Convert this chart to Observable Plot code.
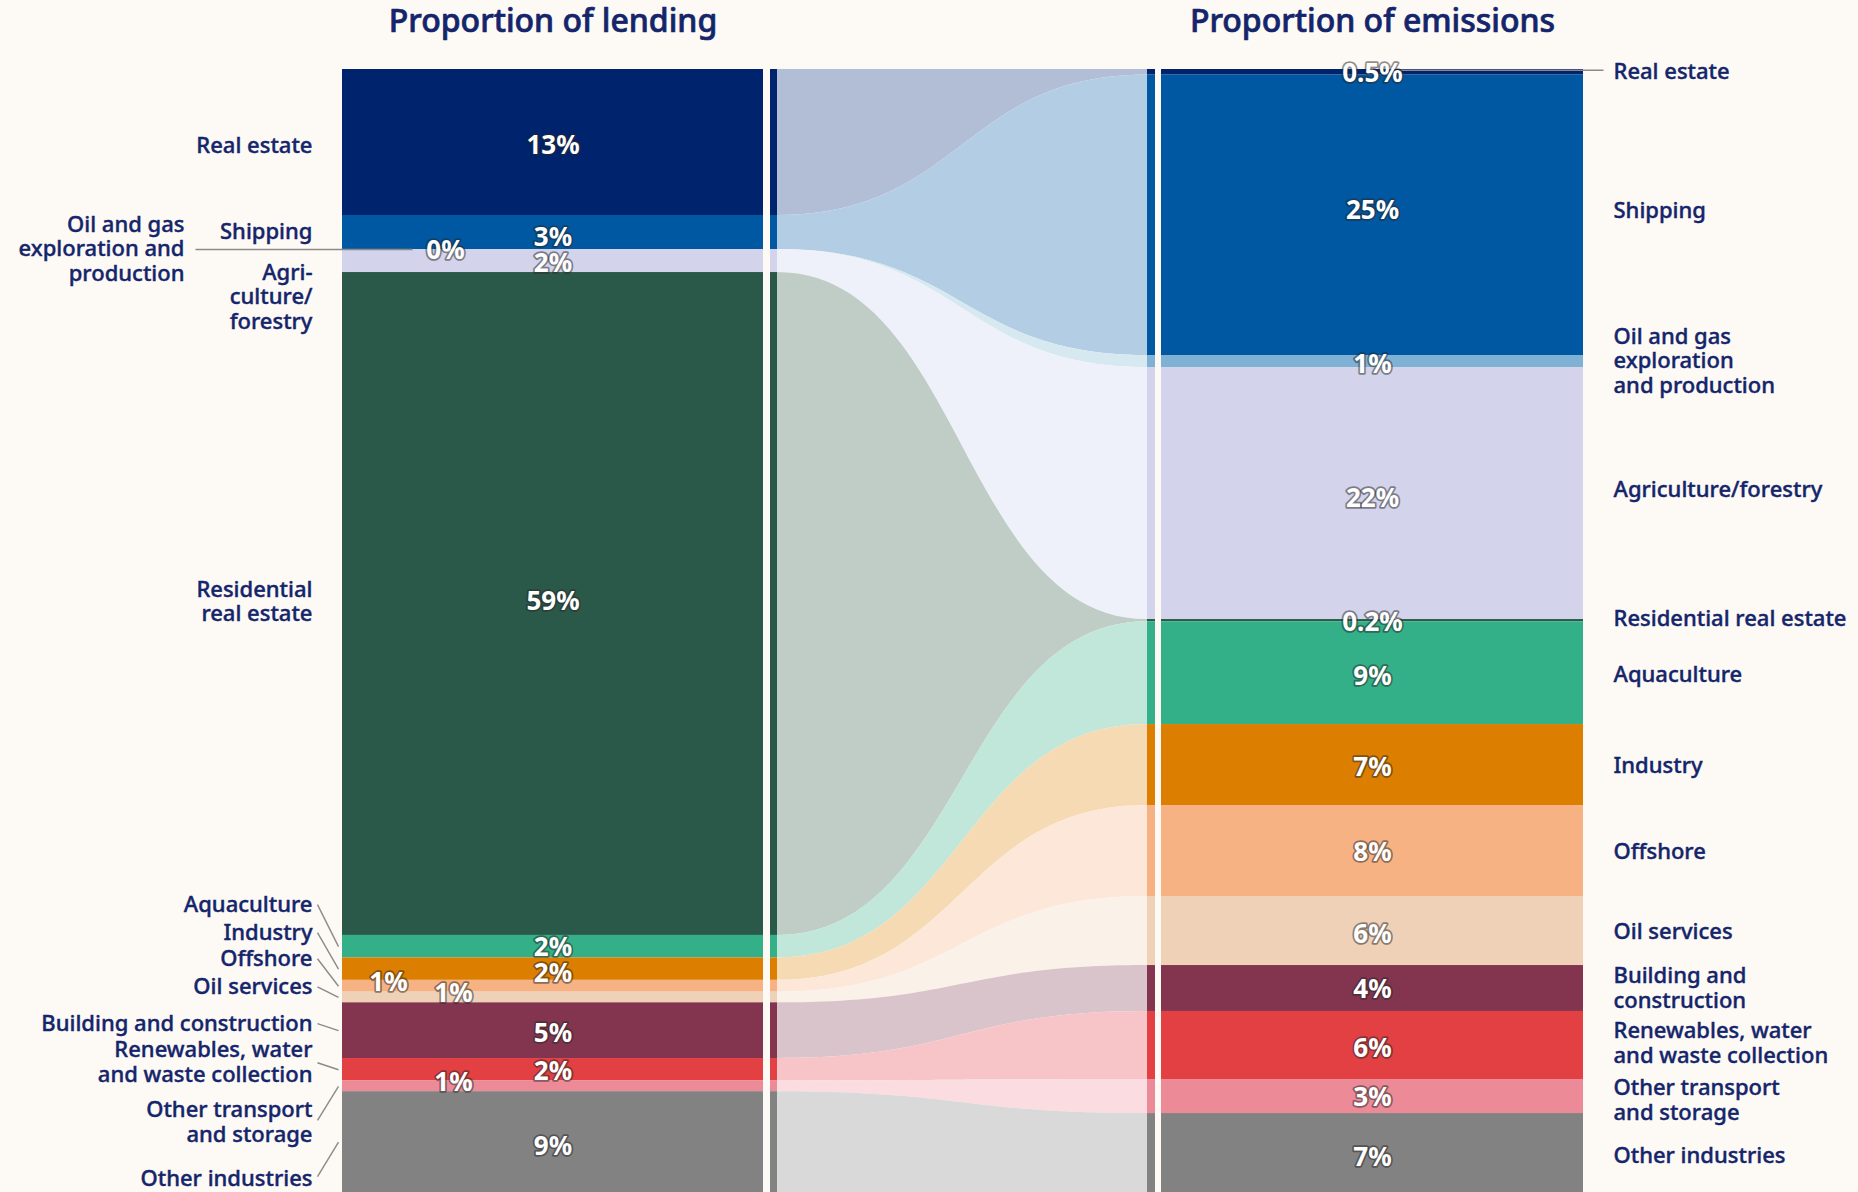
<!DOCTYPE html>
<html>
<head>
<meta charset="utf-8">
<script src="https://cdn.jsdelivr.net/npm/d3@7"></script>
<script src="https://cdn.jsdelivr.net/npm/@observablehq/plot@0.6"></script>
<style>
  html, body { margin: 0; padding: 0; background: #fdf9f4; overflow: hidden; }
  #chart { width: 1858px; height: 1192px; }
  #chart svg { display: block; }
</style>
</head>
<body>
<div id="chart"></div>
<script>
// ---------------- DATA ----------------
const sectors = [
  "Real estate", "Shipping", "Oil and gas exploration and production",
  "Agriculture/forestry", "Residential real estate", "Aquaculture",
  "Industry", "Offshore", "Oil services", "Building and construction",
  "Renewables, water and waste collection", "Other transport and storage",
  "Other industries"
];
// share of lending (%)
const lending = [13.0, 3.03, 0, 2.05, 59.03, 2.0, 2.0, 1.05, 0.95, 4.96, 2.0, 0.95, 8.98];
// share of emissions (%)
const emissions = [0.5, 24.97, 1.07, 22.44, 0.2, 9.15, 7.21, 8.1, 6.15, 4.09, 6.06, 3.03, 7.03];
// printed value labels
const lendingLabels = ["13%", "3%", "0%", "2%", "59%", "2%", "2%", "1%", "1%", "5%", "2%", "1%", "9%"];
const emissionLabels = ["0.5%", "25%", "1%", "22%", "0.2%", "9%", "7%", "8%", "6%", "4%", "6%", "3%", "7%"];
// printed category names
const leftNames = [
  "Real estate", "Shipping", "Oil and gas\nexploration and\nproduction", "Agri-\nculture/\nforestry",
  "Residential\nreal estate", "Aquaculture", "Industry", "Offshore", "Oil services",
  "Building and construction", "Renewables, water\nand waste collection",
  "Other transport\nand storage", "Other industries"
];
const rightNames = [
  "Real estate", "Shipping", "Oil and gas\nexploration\nand production", "Agriculture/forestry",
  "Residential real estate", "Aquaculture", "Industry", "Offshore", "Oil services",
  "Building and\nconstruction", "Renewables, water\nand waste collection",
  "Other transport\nand storage", "Other industries"
];
const columnTitles = ["Proportion of lending", "Proportion of emissions"];

// ---------------- STYLE / LAYOUT ----------------
const barColors = ["#00236e", "#0058a2", "#7eb1d3", "#d3d3eb", "#2a594a", "#33b087", "#dc7f00",
                   "#f7b283", "#efd1b8", "#83354f", "#e34044", "#ec8a98", "#838283"];
const flowColors = ["#b1bed6", "#b3cde4", "#d6e9f1", "#eff1fa", "#bfcdc6", "#c0e7da", "#f5dab3",
                    "#fde7d9", "#faf1e8", "#dac4cc", "#f7c5c8", "#fadce1", "#d9d9d9"];
const navy = "#14256b";
const W = 1858, H = 1192, TOP = 69, BOTTOM = 1192;
const col = {leftBar: [342, 763], leftStrip: [770, 777], rightStrip: [1147, 1155], rightBar: [1161, 1583]};
const leftCenter = (col.leftBar[0] + col.leftBar[1]) / 2;
const rightCenter = (col.rightBar[0] + col.rightBar[1]) / 2;
const leftLabelX = [312, 312, 184, 312, 312, 312, 312, 312, 312, 312, 312, 312, 312];
const leftLabelDy = [3, -1, -1, 35.5, -3, -43, -37.5, -28.5, -11.5, -8, -8, 35, 36.5];
const rightLabelX = 1613;
const rightLabelDy = [-1, -5, -1, -4, -3, 1, 0, 0, 0, -1, -3, 3, 2];
const leftPctX = [leftCenter, leftCenter, 445, leftCenter, leftCenter, leftCenter, leftCenter, 388, 453, leftCenter, leftCenter, 453, leftCenter];
const leftPctDy = [3, 5, 1, 2.5, -2.5, 1, 4.5, -3.5, -3.5, 2.5, 1.5, -3.5, 4.5];
const rightPctDy = [1, -5, 3, 5, 2, 4, 3, 2, 4, 1, 3, 1, 5];
const leaderSectors = [5, 6, 7, 8, 9, 10, 11, 12]; // left labels with angled leader lines

// ---------------- DERIVED TABLES ----------------
const yDomain = [0, 100];
const yPx = d3.scaleLinear().domain(yDomain).range([TOP, BOTTOM]);
const shift = (v, px) => yPx.invert(yPx(v) + px);

function stack(vals) {
  let c = 0;
  return vals.map(v => { const a = c; c += v; return [a, c]; });
}
const L = stack(lending), R = stack(emissions);

const bars = [];
sectors.forEach((s, i) => {
  for (const [x1, x2] of [col.leftBar, col.leftStrip]) bars.push({s, x1, x2, y1: L[i][0], y2: L[i][1], color: barColors[i]});
  for (const [x1, x2] of [col.rightStrip, col.rightBar]) bars.push({s, x1, x2, y1: R[i][0], y2: R[i][1], color: barColors[i]});
});

const flows = [];
sectors.forEach((s, i) => {
  flows.push({s, x: col.leftStrip[1], y1: L[i][0], y2: L[i][1], color: flowColors[i]});
  flows.push({s, x: col.rightStrip[0], y1: R[i][0], y2: R[i][1], color: flowColors[i]});
});

const mid = ([a, b]) => (a + b) / 2;

const leftText = sectors.map((s, i) => ({text: leftNames[i], x: leftLabelX[i], y: shift(mid(L[i]), leftLabelDy[i])}));
const rightText = sectors.map((s, i) => ({text: rightNames[i], x: rightLabelX, y: shift(mid(R[i]), rightLabelDy[i])}));
const pctText = [
  ...sectors.map((s, i) => ({text: lendingLabels[i], x: leftPctX[i], y: shift(mid(L[i]), leftPctDy[i])})),
  ...sectors.map((s, i) => ({text: emissionLabels[i], x: rightCenter, y: shift(mid(R[i]), rightPctDy[i])}))
];

const leaderStartDy = [1, 1, 1, 1, 1, 1, -1, -2];
const leaders = leaderSectors.map((i, k) => ({
  x1: 317, y1: shift(mid(L[i]), leftLabelDy[i] + leaderStartDy[k]),
  x2: 338, y2: mid(L[i])
}));
// horizontal leaders: oil & gas (left, 0%) and real estate (right, 0.5%)
leaders.push({x1: 195, y1: mid(L[2]), x2: 412, y2: mid(L[2])});
leaders.push({x1: 1400, y1: shift(mid(R[0]), -2), x2: 1603, y2: shift(mid(R[0]), -2)});

const titles = [
  {text: columnTitles[0], x: leftCenter},
  {text: columnTitles[1], x: rightCenter}
];

// ---------------- PLOT ----------------
const chart = Plot.plot({
  width: W,
  height: H,
  margin: 0,
  x: {type: "identity", axis: null},
  y: {domain: yDomain, range: [TOP, BOTTOM], axis: null},
  color: {type: "identity"},
  style: {background: "#fdf9f4", fontFamily: "'Noto Sans', sans-serif", overflow: "visible"},
  marks: [
    Plot.area(flows, {x1: "x", y1: "y1", y2: "y2", z: "s", fill: "color", curve: "bump-x"}),
    Plot.rect(bars, {x1: "x1", x2: "x2", y1: "y1", y2: "y2", fill: "color"}),
    Plot.link(leaders, {x1: "x1", y1: "y1", x2: "x2", y2: "y2", stroke: "#8a8a8a", strokeWidth: 1.4}),
    Plot.text(pctText, {
      x: "x", y: "y", text: "text", fill: "white", fontSize: 26, fontWeight: 700,
      stroke: "#262626", strokeOpacity: 0.5, strokeWidth: 3.5, paintOrder: "stroke", lineAnchor: "middle"
    }),
    Plot.text(leftText, {
      x: "x", y: "y", text: "text", textAnchor: "end", fill: navy, fontSize: 22, fontWeight: 500,
      stroke: navy, strokeWidth: 0.4, lineHeight: 1.12, lineAnchor: "middle"
    }),
    Plot.text(rightText, {
      x: "x", y: "y", text: "text", textAnchor: "start", fill: navy, fontSize: 22, fontWeight: 500,
      stroke: navy, strokeWidth: 0.4, lineHeight: 1.12, lineAnchor: "middle"
    }),
    Plot.text(titles, {
      x: "x", text: "text", frameAnchor: "top", dy: 21, lineAnchor: "middle",
      fill: navy, stroke: navy, strokeWidth: 0.7, fontSize: 32, fontWeight: 500
    })
  ]
});
document.getElementById("chart").appendChild(chart);
</script>
</body>
</html>
